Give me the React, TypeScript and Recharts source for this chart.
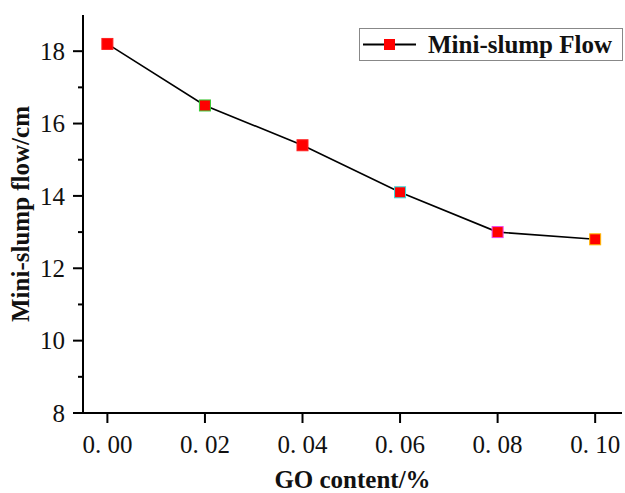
import { LineChart, Line, XAxis, YAxis, Legend } from 'recharts';

const goContent = [0, 0.02, 0.04, 0.06, 0.08, 0.1];
const flowCm = [18.2, 16.5, 15.4, 14.1, 13.0, 12.8];
const xTicks = [0, 0.02, 0.04, 0.06, 0.08, 0.1];
const yTicks = [8, 9, 10, 11, 12, 13, 14, 15, 16, 17, 18];
const edgeColors = ['#ff2020', '#33cc33', '#ff2020', '#33dddd', '#ee44ee', '#ffbb00'];

const FONT = "'Liberation Serif', 'Times New Roman', serif";

const data = goContent.map((x, i) => ({ x, flow: flowCm[i] }));

function YTick(props: any) {
  const { x, y, payload } = props;
  const major = payload.value % 2 === 0;
  return (
    <g>
      <line x1={x} x2={x - (major ? 10 : 5)} y1={y} y2={y} stroke="#000" strokeWidth={2} />
      {major && (
        <text
          x={x - 18}
          y={y}
          dy="0.35em"
          textAnchor="end"
          style={{ fontSize: 25, fontFamily: FONT, fill: '#111' }}
        >
          {payload.value}
        </text>
      )}
    </g>
  );
}

function XTick(props: any) {
  const { x, y, payload } = props;
  return (
    <text x={x} y={y} dy="0.71em" textAnchor="middle" style={{ fontSize: 25, fontFamily: FONT, fill: '#111' }}>
      {payload.value.toFixed(2).replace('.', '. ')}
    </text>
  );
}

function Marker(props: any) {
  const { cx, cy, index } = props;
  return (
    <rect
      key={`m-${index}`}
      x={cx - 5.5}
      y={cy - 5.5}
      width={11}
      height={11}
      fill="#ff0000"
      stroke={edgeColors[index]}
      strokeWidth={1}
    />
  );
}

function LegendBox() {
  return (
    <div
      style={{
        border: '1px solid #888',
        height: 33,
        display: 'flex',
        alignItems: 'center',
        boxSizing: 'border-box',
        background: '#fff',
      }}
    >
      <svg width={68} height={31}>
        <line x1={3} x2={56} y1={15.5} y2={15.5} stroke="#000" strokeWidth={2} />
        <rect x={24} y={10} width={11} height={11} fill="#ff0000" />
      </svg>
      <span style={{ fontFamily: FONT, fontWeight: 'bold', fontSize: 25, color: '#111', lineHeight: '31px' }}>
        Mini-slump Flow
      </span>
    </div>
  );
}

export default function App() {
  return (
    <div style={{ position: 'absolute', left: 0, top: 0, background: '#fff' }}>
      <LineChart width={625} height={493} data={data} margin={{ top: 15, right: 3, left: 0, bottom: 0 }}>
        <XAxis
          dataKey="x"
          type="number"
          domain={[-0.005, 0.1055]}
          ticks={xTicks}
          interval={0}
          allowDataOverflow
          height={80}
          tick={<XTick />}
          tickSize={10}
          tickMargin={12}
          stroke="#000"
          strokeWidth={2}
          tickLine={{ stroke: '#000', strokeWidth: 2 }}
          label={{
            value: 'GO content/%',
            position: 'insideBottom',
            offset: 5,
            style: { fontFamily: FONT, fontWeight: 'bold', fontSize: 25, fill: '#111' },
          }}
        />
        <YAxis
          type="number"
          domain={[8, 19]}
          ticks={yTicks}
          allowDataOverflow
          width={83}
          tickSize={0}
          tickMargin={0}
          tickLine={false}
          tick={<YTick />}
          stroke="#000"
          strokeWidth={2}
          interval={0}
          label={{
            value: 'Mini-slump flow/cm',
            angle: -90,
            position: 'insideLeft',
            offset: 20,
            style: { fontFamily: FONT, fontWeight: 'bold', fontSize: 25, fill: '#111', textAnchor: 'middle' },
          }}
        />
        <Legend
          layout="horizontal"
          verticalAlign="middle"
          align="center"
          content={<LegendBox />}
          wrapperStyle={{ left: 359, top: 28, width: 264, right: 'auto', bottom: 'auto' }}
        />
        <Line
          dataKey="flow"
          stroke="#000"
          strokeWidth={1.6}
          dot={Marker}
          isAnimationActive={false}
        />
      </LineChart>
    </div>
  );
}
